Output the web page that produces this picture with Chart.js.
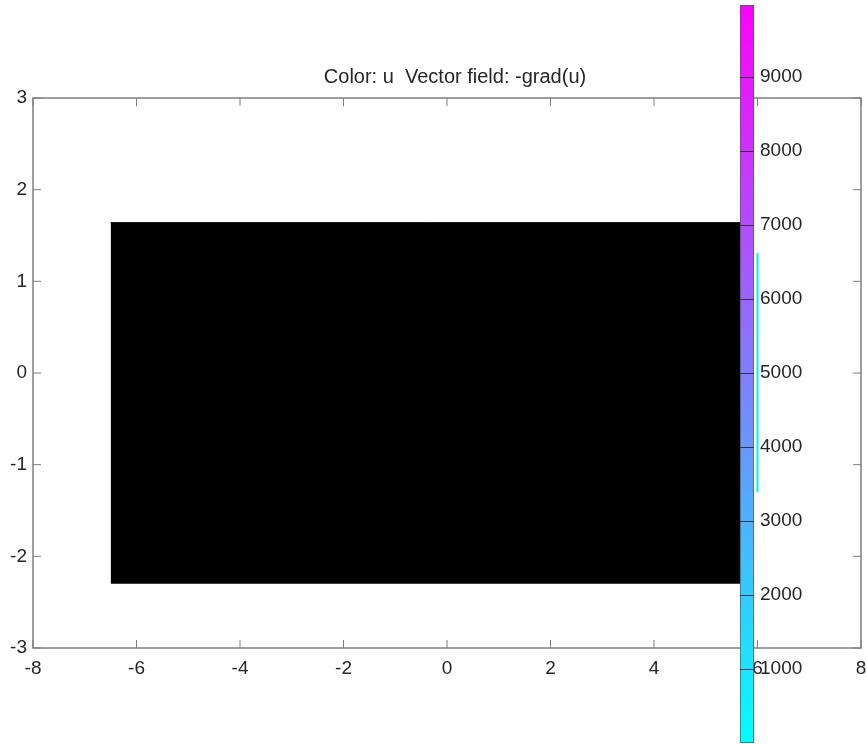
<!DOCTYPE html>
<html>
<head>
<meta charset="utf-8">
<script src="https://cdn.jsdelivr.net/npm/chart.js@4/dist/chart.umd.min.js"></script>
<style>
  html, body { margin: 0; padding: 0; background: #ffffff; }
  #wrap { position: relative; width: 867px; height: 744px; overflow: hidden; }
  canvas { position: absolute; left: 0; top: 0; }
  #cbar { pointer-events: none; }
  #title { position: absolute; left: 255px; width: 400px; top: 65px; text-align: center;
           font-family: "Liberation Sans", Arial, sans-serif; font-size: 20px; line-height: 1.15;
           color: #262626; white-space: pre; }
</style>
</head>
<body>
<div id="wrap">
  <canvas id="main" width="867" height="744"></canvas>
  <canvas id="cbar" width="867" height="744"></canvas>
  <div id="title">Color: u  Vector field: -grad(u)</div>
</div>
<script>
// ---- data ----
const xTicks = [-8, -6, -4, -2, 0, 2, 4, 6, 8];
const yTicks = [-3, -2, -1, 0, 1, 2, 3];
const xRange = [-8, 8];
const yRange = [-3, 3];
// domain (filled black region)
const domainX = [-6.5, 5.8];
const domainTop = 1.64;
const domainBottom = -2.3;
// visible vector-field arrows column (cyan) at the right boundary
const quiverX = [6.0, 6.0];
const quiverY = [-1.30, 1.31];
// colour bar
const colorRange = [0, 9975];
const colorTicks = [1000, 2000, 3000, 4000, 5000, 6000, 7000, 8000, 9000];
const colormapStops = ['#00ffff', '#ff00ff'];

const FONT = '"Liberation Sans", Arial, sans-serif';
const TEXT = '#262626';
const AXIS = '#7f7f7f';

function noPad(s) { s.paddingTop = 0; s.paddingBottom = 0; s.paddingLeft = 0; s.paddingRight = 0; }

// frame + inward ticks on all four sides
const framePlugin = {
  id: 'frame',
  afterDraw(chart) {
    const { ctx, chartArea: a, scales } = chart;
    ctx.save();
    ctx.strokeStyle = AXIS;
    ctx.lineWidth = 1.5;
    ctx.strokeRect(a.left, a.top, a.right - a.left, a.bottom - a.top);
    const L = 8;
    ctx.beginPath();
    scales.x.ticks.forEach(t => {
      const px = scales.x.getPixelForValue(t.value);
      ctx.moveTo(px, a.bottom); ctx.lineTo(px, a.bottom - L);
      ctx.moveTo(px, a.top); ctx.lineTo(px, a.top + L);
    });
    scales.y.ticks.forEach(t => {
      const py = scales.y.getPixelForValue(t.value);
      ctx.moveTo(a.left, py); ctx.lineTo(a.left + L, py);
      ctx.moveTo(a.right, py); ctx.lineTo(a.right - L, py);
    });
    ctx.lineWidth = 1;
    ctx.stroke();
    ctx.restore();
  }
};

// colour-bar tick lines across the bar
const cbarTickPlugin = {
  id: 'cbarTicks',
  afterDatasetsDraw(chart) {
    const { ctx, chartArea: a, scales } = chart;
    ctx.save();
    ctx.strokeStyle = '#333333';
    ctx.lineWidth = 1;
    ctx.beginPath();
    scales.y.ticks.forEach(t => {
      const py = Math.round(scales.y.getPixelForValue(t.value)) + 0.5;
      ctx.moveTo(a.left, py); ctx.lineTo(a.right, py);
    });
    ctx.stroke();
    ctx.restore();
  }
};

new Chart(document.getElementById('main'), {
  type: 'scatter',
  data: {
    datasets: [
      {
        type: 'line',
        label: 'domain',
        data: domainX.map(x => ({ x: x, y: domainTop })),
        borderColor: '#000000',
        backgroundColor: '#000000',
        borderWidth: 1,
        pointRadius: 0,
        fill: { value: domainBottom }
      },
      {
        type: 'line',
        label: 'arrows',
        data: quiverX.map((x, i) => ({ x: x, y: quiverY[i] })),
        borderColor: '#00f0f0',
        borderWidth: 2,
        pointRadius: 0,
        fill: false
      }
    ]
  },
  options: {
    responsive: false,
    animation: false,
    devicePixelRatio: 1,
    layout: { padding: { left: 0, right: 6, top: 98, bottom: 0 } },
    plugins: { legend: { display: false }, tooltip: { enabled: false } },
    scales: {
      x: {
        type: 'linear', min: xRange[0], max: xRange[1],
        afterBuildTicks: s => { s.ticks = xTicks.map(v => ({ value: v })); },
        afterFit: s => { s.height = 96; noPad(s); },
        grid: { display: false, drawTicks: false },
        border: { display: false },
        ticks: { padding: 9, color: TEXT, font: { family: FONT, size: 19 }, maxRotation: 0,
                 callback: v => String(v) }
      },
      y: {
        type: 'linear', min: yRange[0], max: yRange[1],
        afterBuildTicks: s => { s.ticks = yTicks.map(v => ({ value: v })); },
        afterFit: s => { s.width = 33; noPad(s); },
        grid: { display: false, drawTicks: false },
        border: { display: false },
        ticks: { padding: 6, color: TEXT, font: { family: FONT, size: 19 },
                 callback: v => String(v) }
      }
    }
  },
  plugins: [framePlugin]
});

// colour bar
new Chart(document.getElementById('cbar'), {
  type: 'bar',
  data: {
    labels: ['u'],
    datasets: [{
      data: [colorRange],
      barPercentage: 1,
      categoryPercentage: 1,
      borderColor: '#555555',
      borderWidth: 1,
      borderSkipped: false,
      backgroundColor: (c) => {
        const area = c.chart.chartArea;
        if (!area) return colormapStops[0];
        const g = c.chart.ctx.createLinearGradient(0, area.bottom, 0, area.top);
        colormapStops.forEach((col, i) => g.addColorStop(i / (colormapStops.length - 1), col));
        return g;
      }
    }]
  },
  options: {
    responsive: false,
    animation: false,
    devicePixelRatio: 1,
    layout: { padding: { left: 740, right: 0, top: 5, bottom: 1 } },
    plugins: { legend: { display: false }, tooltip: { enabled: false } },
    scales: {
      x: { display: false, afterFit: noPad },
      y: {
        position: 'right',
        min: colorRange[0], max: colorRange[1],
        afterBuildTicks: s => { s.ticks = colorTicks.map(v => ({ value: v })); },
        afterFit: s => { s.width = 113; noPad(s); },
        grid: { display: false, drawTicks: false },
        border: { display: false },
        ticks: { padding: 6, color: TEXT, font: { family: FONT, size: 19 },
                 callback: v => String(v) }
      }
    }
  },
  plugins: [cbarTickPlugin]
});
</script>
</body>
</html>
